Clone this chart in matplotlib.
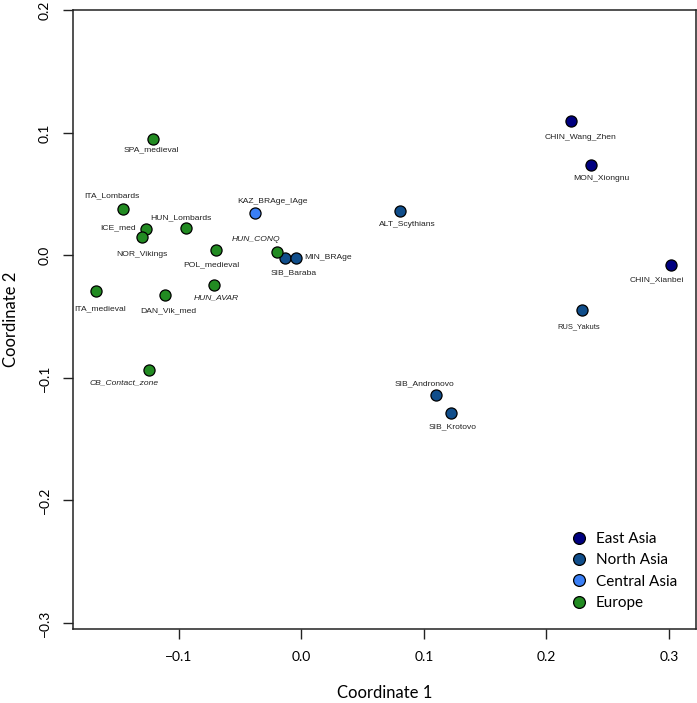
import matplotlib
matplotlib.use("Agg")
import matplotlib.pyplot as plt
from matplotlib.lines import Line2D

# ---- data ----
names = ["SPA_medieval", "ITA_Lombards", "ICE_med", "NOR_Vikings", "HUN_Lombards",
         "KAZ_BRAge_IAge", "POL_medieval", "HUN_CONQ", "SIB_Baraba", "MIN_BRAge",
         "ITA_medieval", "DAN_Vik_med", "HUN_AVAR", "CB_Contact_zone",
         "CHIN_Wang_Zhen", "MON_Xiongnu", "ALT_Scythians", "CHIN_Xianbei",
         "RUS_Yakuts", "SIB_Andronovo", "SIB_Krotovo"]
coord1 = [-0.121, -0.146, -0.127, -0.130, -0.094,
          -0.038, -0.070, -0.020, -0.013, -0.004,
          -0.168, -0.111, -0.071, -0.1245,
          0.2197, 0.2366, 0.0804, 0.3018,
          0.2287, 0.110, 0.1217]
coord2 = [0.0949, 0.038, 0.0217, 0.0151, 0.0227,
          0.0347, 0.0042, 0.0029, -0.0018, -0.0018,
          -0.0293, -0.0323, -0.0241, -0.0933,
          0.1096, 0.0739, 0.0366, -0.0078,
          -0.0445, -0.114, -0.1287]
region = ["Europe", "Europe", "Europe", "Europe", "Europe",
          "Central Asia", "Europe", "Europe", "North Asia", "North Asia",
          "Europe", "Europe", "Europe", "Europe",
          "East Asia", "East Asia", "North Asia", "East Asia",
          "North Asia", "North Asia", "North Asia"]
regions = ["East Asia", "North Asia", "Central Asia", "Europe"]
italic_names = ["HUN_CONQ", "HUN_AVAR", "CB_Contact_zone"]
xticks = [-0.1, 0.0, 0.1, 0.2, 0.3]
yticks = [-0.3, -0.2, -0.1, 0.0, 0.1, 0.2]

# ---- style ----
colors = {"East Asia": "#000080", "North Asia": "#104E8B",
          "Central Asia": "#3A7FF5", "Europe": "#228B22"}
# label offsets in pixels (dx, dy) and horizontal alignment
label_style = {
    "SPA_medieval": (-2, -11, "center"),
    "ITA_Lombards": (-11, 13, "center"),
    "ICE_med": (-10, 1, "right"),
    "NOR_Vikings": (0, -18, "center"),
    "HUN_Lombards": (-5, 10, "center"),
    "KAZ_BRAge_IAge": (18, 11, "center"),
    "POL_medieval": (-4, -14, "center"),
    "HUN_CONQ": (-21, 12, "center"),
    "SIB_Baraba": (8, -15, "center"),
    "MIN_BRAge": (8, 0, "left"),
    "ITA_medieval": (5, -17, "center"),
    "DAN_Vik_med": (3, -16, "center"),
    "HUN_AVAR": (2, -13, "center"),
    "CB_Contact_zone": (-25, -13, "center"),
    "CHIN_Wang_Zhen": (10, -16, "center"),
    "MON_Xiongnu": (10, -14, "center"),
    "ALT_Scythians": (7, -14, "center"),
    "CHIN_Xianbei": (-14, -15, "center"),
    "RUS_Yakuts": (-3, -17, "center"),
    "SIB_Andronovo": (-12, 11, "center"),
    "SIB_Krotovo": (2, -14, "center"),
}

axis_font = "Lato"
label_font = "Liberation Sans"

fig = plt.figure(figsize=(6.97, 7.03), dpi=100)
ax = fig.add_axes([73 / 697, 74 / 703, (695.7 - 73) / 697, (629 - 10) / 703])

for r in regions:
    xs = [x for x, g in zip(coord1, region) if g == r]
    ys = [y for y, g in zip(coord2, region) if g == r]
    ax.scatter(xs, ys, s=64, c=colors[r], edgecolors="black", linewidths=0.9, zorder=3)

for n, x, y in zip(names, coord1, coord2):
    dx, dy, ha = label_style[n]
    fs = 6.1 if n != "RUS_Yakuts" else 5.4
    ax.annotate(n, (x, y), xytext=(dx, dy), textcoords="offset pixels",
                ha=ha, va="center", fontsize=fs, family=label_font,
                style="italic" if n in italic_names else "normal",
                color="#222222", zorder=4)

ax.set_xlim(-0.1864, 0.3218)
ax.set_ylim(-0.3049, 0.2004)
ax.set_xticks(xticks)
ax.set_yticks(yticks)
ax.set_xticklabels([f"{t:.1f}".replace("-", "\u2212") for t in xticks],
                   family=axis_font, fontsize=10)
ax.set_yticklabels([f"{t:.1f}".replace("-", "\u2212") for t in yticks],
                   family=axis_font, fontsize=10, rotation=90, va="center")
ax.tick_params(axis="both", direction="out", length=7, width=1, color="#222222", pad=9)
for sp in ax.spines.values():
    sp.set_linewidth(1.1)
    sp.set_color("#222222")

ax.set_xlabel("Coordinate 1", family=axis_font, fontsize=12, labelpad=16)
ax.set_ylabel("Coordinate 2", family=axis_font, fontsize=12, labelpad=14)

handles = [Line2D([], [], marker="o", linestyle="none", markersize=8.5,
                  markerfacecolor=colors[r], markeredgecolor="black",
                  markeredgewidth=0.9, label=r) for r in regions]
leg = ax.legend(handles=handles, loc="lower right", frameon=False,
                prop={"family": axis_font, "size": 11},
                handlelength=1.2, handletextpad=0.5, labelspacing=0.48,
                borderpad=0.4, borderaxespad=0.84)

fig.savefig("out.png", dpi=100)
